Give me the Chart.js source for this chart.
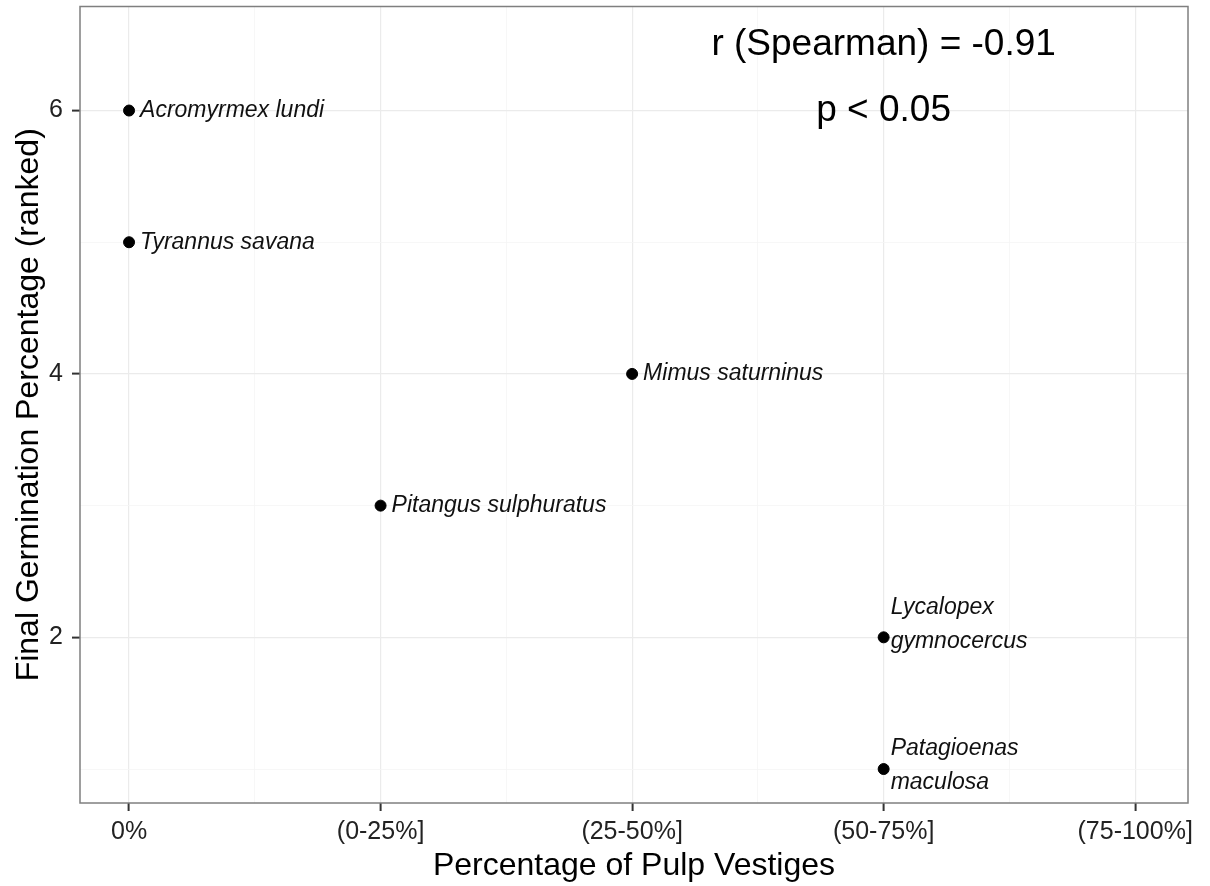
<!DOCTYPE html>
<html>
<head>
<meta charset="utf-8">
<script src="https://cdn.jsdelivr.net/npm/chart.js@4.4.0/dist/chart.umd.min.js"></script>
<style>
  html, body { margin: 0; padding: 0; background: #fff; }
  #wrap { width: 1210px; height: 886px; }
</style>
</head>
<body>
<div id="wrap"><canvas id="scatterChart"></canvas></div>
<script>
// --- DATOS ---
const xCategories = ['0%', '(0-25%]', '(25-50%]', '(50-75%]', '(75-100%]'];
const species = ['Acromyrmex lundi', 'Tyrannus savana', 'Mimus saturninus', 'Pitangus sulphuratus', 'Lycalopex\ngymnocercus', 'Patagioenas\nmaculosa'];
const pulpIndex = [0, 0, 2, 1, 3, 3];
const germRank = [6, 5, 4, 3, 2, 1];
const yTickValues = [1, 2, 3, 4, 5, 6];
const annotations = [
    { text: 'r (Spearman) = -0.91', x: 3, y: 6.5 },
    { text: 'p < 0.05', x: 3, y: 6 }
];

const FONT = "'Liberation Sans', Arial, sans-serif";
const points = pulpIndex.map((x, i) => ({ x: x, y: germRank[i] }));

// etiquetas de cada punto + borde del panel + anotaciones
const ggExtras = {
    id: 'ggExtras',
    afterDatasetsDraw(chart) {
        const ctx = chart.ctx;
        const xs = chart.scales.x, ys = chart.scales.y;
        const area = chart.chartArea;

        ctx.save();
        ctx.fillStyle = '#111';
        ctx.font = 'italic 23px ' + FONT;
        ctx.textAlign = 'left';
        ctx.textBaseline = 'middle';
        points.forEach((p, i) => {
            const py = ys.getPixelForValue(p.y);
            const lines = species[i].split('\n');
            if (lines.length === 1) {
                ctx.fillText(lines[0], xs.getPixelForValue(p.x) + 11, py);
            } else {
                // dos líneas: la segunda queda a la altura del punto aprox.
                const px = xs.getPixelForValue(p.x) + 7;
                const shift = i === 4 ? -13 : -3;
                ctx.fillText(lines[0], px, py + shift - 17);
                ctx.fillText(lines[1], px, py + shift + 17);
            }
        });

        ctx.font = '37px ' + FONT;
        ctx.textAlign = 'center';
        ctx.fillStyle = '#000';
        annotations.forEach(a => {
            ctx.fillText(a.text, xs.getPixelForValue(a.x), ys.getPixelForValue(a.y));
        });

        ctx.strokeStyle = '#7f7f7f';
        ctx.lineWidth = 1.5;
        ctx.strokeRect(area.left, area.top, area.right - area.left, area.bottom - area.top);
        ctx.restore();
    }
};

const ctx = document.getElementById('scatterChart').getContext('2d');
new Chart(ctx, {
    type: 'scatter',
    data: {
        datasets: [{
            label: 'Especies',
            data: points,
            backgroundColor: '#000',
            borderColor: '#000',
            pointRadius: 5.5,
            pointHoverRadius: 5.5
        }]
    },
    options: {
        responsive: true,
        maintainAspectRatio: false,
        animation: false,
        layout: { padding: { top: 6, right: 22, bottom: 4, left: 12 } },
        plugins: {
            legend: { display: false },
            tooltip: { enabled: false }
        },
        scales: {
            x: {
                type: 'linear',
                min: -0.195,
                max: 4.21,
                afterBuildTicks: axis => {
                    const t = [];
                    for (let v = 0; v <= 4; v += 0.5) t.push({ value: v });
                    axis.ticks = t;
                },
                afterFit: axis => {
                    axis.height = 79;
                },
                ticks: {
                    autoSkip: false,
                    maxRotation: 0,
                    color: '#222',
                    font: { family: FONT, size: 25 },
                    padding: 6,
                    callback: v => Number.isInteger(v) ? xCategories[v] : ''
                },
                grid: {
                    color: c => Number.isInteger(c.tick.value) ? '#ebebeb' : '#f5f5f5',
                    lineWidth: c => Number.isInteger(c.tick.value) ? 1.2 : 0.8,
                    tickColor: c => Number.isInteger(c.tick.value) ? '#333' : 'rgba(0,0,0,0)',
                    tickLength: 8,
                    tickWidth: 2
                },
                border: { display: false },
                title: {
                    display: true,
                    text: 'Percentage of Pulp Vestiges',
                    color: '#000',
                    font: { family: FONT, size: 32, lineHeight: 1.0 },
                    padding: { top: 0, bottom: 0 }
                }
            },
            y: {
                type: 'linear',
                min: 0.742,
                max: 6.79,
                afterBuildTicks: axis => {
                    axis.ticks = yTickValues.map(v => ({ value: v }));
                },
                afterFit: axis => {
                    // sin reserva extra arriba/abajo para la etiqueta del tick
                    axis.paddingTop = 0;
                    axis.paddingBottom = 0;
                    axis.width = 68;
                },
                ticks: {
                    autoSkip: false,
                    color: '#222',
                    font: { family: FONT, size: 25 },
                    padding: 9,
                    callback: v => v % 2 === 0 ? String(v) : ''
                },
                grid: {
                    color: c => c.tick.value % 2 === 0 ? '#ebebeb' : '#f5f5f5',
                    lineWidth: c => c.tick.value % 2 === 0 ? 1.2 : 0.8,
                    tickColor: c => c.tick.value % 2 === 0 ? '#333' : 'rgba(0,0,0,0)',
                    tickLength: 8,
                    tickWidth: 2
                },
                border: { display: false },
                title: {
                    display: true,
                    text: 'Final Germination Percentage (ranked)',
                    color: '#000',
                    font: { family: FONT, size: 32, lineHeight: 1.0 },
                    padding: { top: 1, bottom: 2 }
                }
            }
        }
    },
    plugins: [ggExtras]
});
</script>
</body>
</html>
